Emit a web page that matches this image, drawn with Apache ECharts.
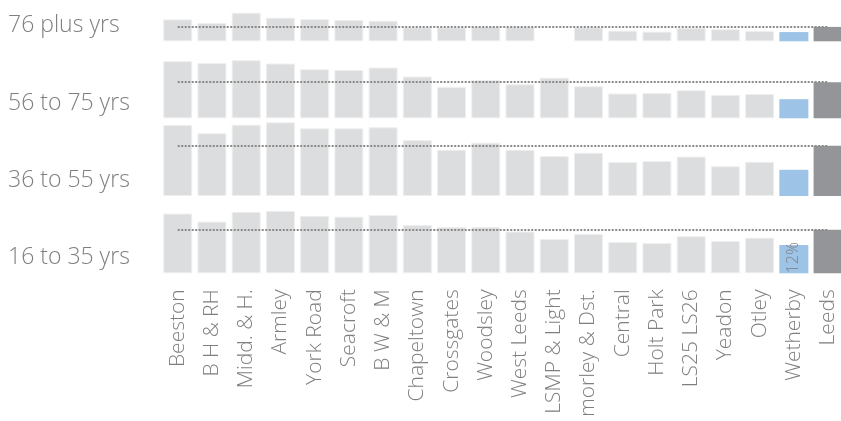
<!DOCTYPE html>
<html>
<head>
<meta charset="utf-8">
<script src="https://cdn.jsdelivr.net/npm/echarts@6/dist/echarts.min.js"></script>
<style>
  html, body { margin: 0; padding: 0; background: #fff; overflow: hidden; }
  #chart { width: 848px; height: 421px; }
</style>
</head>
<body>
<div id="chart"></div>
<script>
const areas = ['Beeston', 'B H & RH', 'Midd. & H.', 'Armley', 'York Road', 'Seacroft', 'B W & M',
  'Chapeltown', 'Crossgates', 'Woodsley', 'West Leeds', 'LSMP & Light', 'morley & Dst.', 'Central',
  'Holt Park', 'LS25 LS26', 'Yeadon', 'Otley', 'Wetherby', 'Leeds']

const ageBands = ['76 plus yrs', '56 to 75 yrs', '36 to 55 yrs', '16 to 35 yrs']

// % of adults in each age band
const age76plus = [9.3, 7.8, 12.1, 10.0, 9.4, 9.0, 8.7, 5.9, 5.9, 6.2, 6.2, null, 5.9, 4.5, 4.1, 5.6, 5.1, 4.4, 3.9, 6.1]
const age56to75 = [24.2, 23.4, 24.6, 23.2, 20.8, 20.5, 21.5, 17.7, 13.3, 16.2, 14.4, 17.2, 13.6, 10.5, 10.7, 11.9, 9.9, 10.3, 8.1, 15.3]
const age36to55 = [30.1, 26.6, 30.2, 31.2, 28.7, 28.7, 29.1, 23.7, 19.6, 22.6, 19.6, 16.9, 18.3, 14.4, 14.8, 16.7, 12.6, 14.5, 11.1, 21.3]
const age16to35 = [25.3, 21.9, 26.0, 26.4, 24.3, 24.0, 24.7, 20.5, 19.6, 19.6, 17.7, 14.5, 16.7, 13.3, 12.8, 15.7, 13.7, 15.1, 12.0, 18.5]

const rows = [age76plus, age56to75, age36to55, age16to35]
const rowMax = [13, 25, 32, 27]

const highlight = 'Wetherby'
const total = 'Leeds'

// layout (chart is a bit wider than the window so the Leeds bar gets cut at the edge)
const PX = 2.36
const baselines = [41.3, 118.3, 196, 273.3]
const labelY = [25.5, 103, 180.5, 257]
const gridLeft = 160.6
const gridWidth = 684.6

const chart = echarts.init(document.getElementById('chart'))

const grids = [], xAxes = [], yAxes = [], series = [], graphics = []

rows.forEach((vals, i) => {
  const h = rowMax[i] * PX
  grids.push({ left: gridLeft, width: gridWidth, top: baselines[i] - h, height: h })
  const last = i === rows.length - 1
  xAxes.push({
    type: 'category', gridIndex: i, data: areas,
    axisLine: { show: false }, axisTick: { show: false },
    axisLabel: last ? {
      show: true, rotate: 90, margin: 16, interval: 0,
      fontFamily: 'Open Sans', fontWeight: 300, fontSize: 21, color: '#7f7f7f'
    } : { show: false }
  })
  yAxes.push({ type: 'value', gridIndex: i, min: 0, max: rowMax[i], show: false, splitLine: { show: false } })

  const leedsVal = vals[areas.indexOf(total)]
  series.push({
    type: 'bar', xAxisIndex: i, yAxisIndex: i,
    barWidth: 29,
    data: vals.map((v, k) => {
      const name = areas[k]
      const item = { value: v }
      if (name === highlight) {
        item.itemStyle = { color: '#9dc3e6', borderWidth: 0 }
        if (last) {
          item.label = {
            show: true, position: 'insideBottom', rotate: 90,
            align: 'left', verticalAlign: 'middle', distance: 0,
            formatter: v + '%', fontFamily: 'Open Sans', fontWeight: 300, fontSize: 16, color: '#7f7f7f'
          }
        }
      } else if (name === total) {
        item.itemStyle = { color: '#939598', borderWidth: 0 }
      }
      return item
    }),
    itemStyle: { color: '#dcdddf', borderColor: '#efefef', borderWidth: 1 },
    markLine: {
      silent: true, symbol: 'none',
      label: { show: false },
      lineStyle: { color: '#8a8a8a', width: 2, type: [2, 1.5] },
      data: [[{ xAxis: 0, yAxis: leedsVal }, { xAxis: areas.length - 1, yAxis: leedsVal }]]
    }
  })

  graphics.push({
    type: 'text', x: 8, y: labelY[i],
    style: { text: ageBands[i], fontFamily: 'Open Sans', fontWeight: 300, fontSize: 23, fill: '#7f7f7f', verticalAlign: 'middle' }
  })
})

chart.setOption({
  animation: false,
  grid: grids,
  xAxis: xAxes,
  yAxis: yAxes,
  series: series,
  graphic: graphics
})
</script>
</body>
</html>
